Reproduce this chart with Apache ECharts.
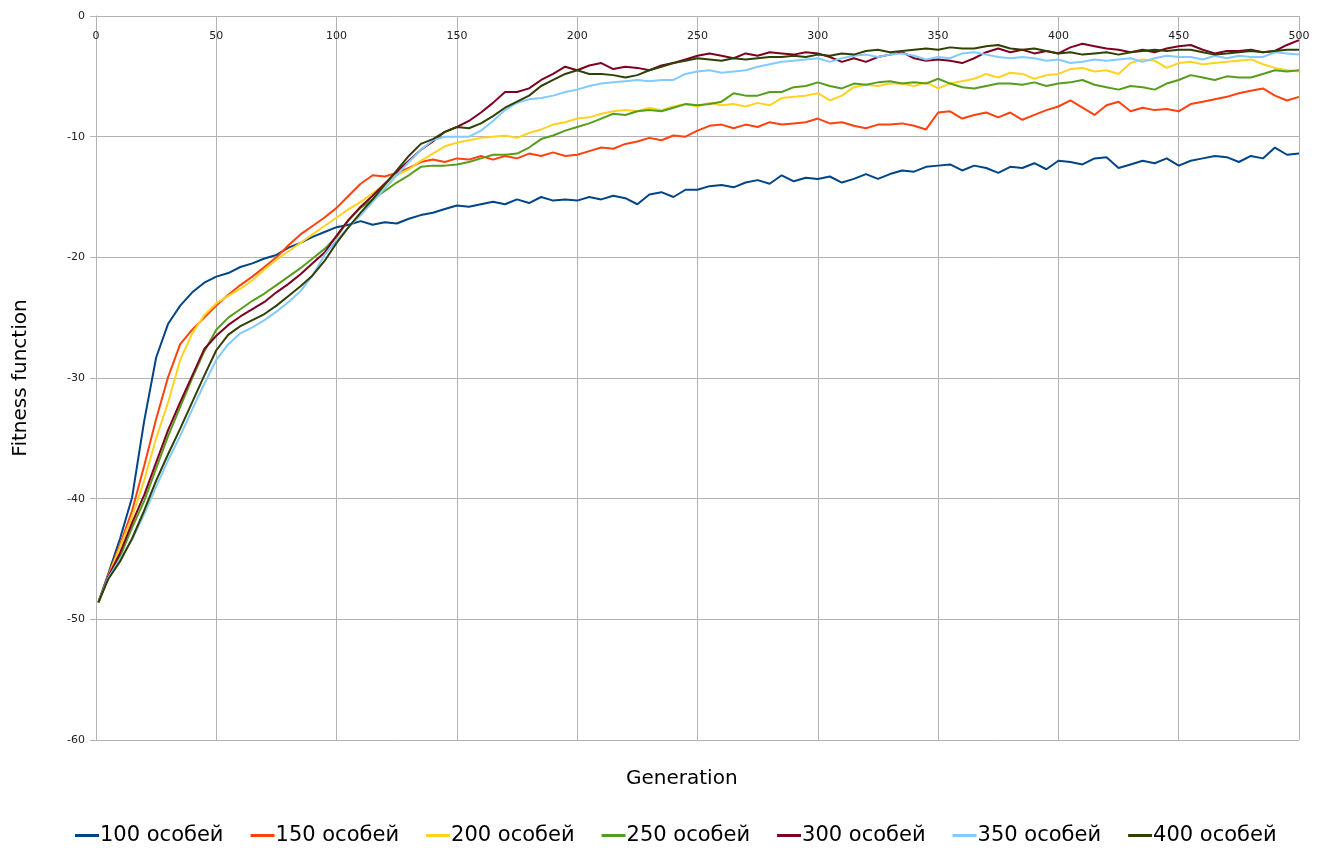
<!DOCTYPE html>
<html>
<head>
<meta charset="utf-8">
<script src="https://cdn.jsdelivr.net/npm/echarts@6/dist/echarts.min.js"></script>
<style>
  html, body { margin: 0; padding: 0; background: #fff; }
  #chart { width: 1321px; height: 849px; }
</style>
</head>
<body>
<div id="chart"></div>
<script>
// generations sampled: 1, then every 5th up to 500
var GEN = [1];
for (var g = 5; g <= 500; g += 5) GEN.push(g);

var SERIES_NAMES = ['100 особей', '150 особей', '200 особей', '250 особей', '300 особей', '350 особей', '400 особей'];
var COLORS = ['#004586', '#ff420e', '#ffd320', '#579d1c', '#7e0021', '#83caff', '#314004'];

var P100 = [-48.6, -46.3, -43.3, -39.9, -33.6, -28.3, -25.5, -24.0, -22.9, -22.1, -21.6, -21.3, -20.8, -20.5, -20.1, -19.8, -19.2, -18.8, -18.3, -17.9,
  -17.5, -17.3, -17.0, -17.3, -17.1, -17.2, -16.8, -16.5, -16.3, -16.0, -15.7, -15.8, -15.6, -15.4, -15.6, -15.2, -15.5, -15.0, -15.3, -15.2,
  -15.3, -15.0, -15.2, -14.9, -15.1, -15.6, -14.8, -14.6, -15.0, -14.4, -14.4, -14.1, -14.0, -14.2, -13.8, -13.6, -13.9, -13.2, -13.7, -13.4,
  -13.5, -13.3, -13.8, -13.5, -13.1, -13.5, -13.1, -12.8, -12.9, -12.5, -12.4, -12.3, -12.8, -12.4, -12.6, -13.0, -12.5, -12.6, -12.2, -12.7,
  -12.0, -12.1, -12.3, -11.8, -11.7, -12.6, -12.3, -12.0, -12.2, -11.8, -12.4, -12.0, -11.8, -11.6, -11.7, -12.1, -11.6, -11.8, -10.9, -11.5, -11.4];

var P150 = [-48.6, -46.4, -43.8, -41.0, -37.3, -33.4, -29.9, -27.2, -26.0, -25.0, -24.0, -23.1, -22.3, -21.6, -20.8, -20.0, -19.0, -18.1, -17.4, -16.7,
  -15.9, -14.9, -13.9, -13.2, -13.3, -13.0, -12.6, -12.1, -11.9, -12.1, -11.8, -11.9, -11.6, -11.9, -11.6, -11.8, -11.4, -11.6, -11.3, -11.6,
  -11.5, -11.2, -10.9, -11.0, -10.6, -10.4, -10.1, -10.3, -9.9, -10.0, -9.5, -9.1, -9.0, -9.3, -9.0, -9.2, -8.8, -9.0, -8.9, -8.8,
  -8.5, -8.9, -8.8, -9.1, -9.3, -9.0, -9.0, -8.9, -9.1, -9.4, -8.0, -7.9, -8.5, -8.2, -8.0, -8.4, -8.0, -8.6, -8.2, -7.8,
  -7.5, -7.0, -7.6, -8.2, -7.4, -7.1, -7.9, -7.6, -7.8, -7.7, -7.9, -7.3, -7.1, -6.9, -6.7, -6.4, -6.2, -6.0, -6.6, -7.0, -6.7];

var P200 = [-48.6, -46.5, -44.0, -41.5, -38.5, -35.0, -32.0, -28.5, -26.3, -24.8, -23.8, -23.2, -22.6, -21.9, -21.0, -20.2, -19.5, -18.8, -18.1, -17.4,
  -16.7, -16.0, -15.4, -14.7, -13.9, -13.2, -12.7, -12.0, -11.4, -10.8, -10.5, -10.3, -10.1, -10.0, -9.9, -10.1, -9.7, -9.4, -9.0, -8.8,
  -8.5, -8.4, -8.1, -7.9, -7.8, -7.9, -7.6, -7.8, -7.5, -7.3, -7.5, -7.2, -7.4, -7.3, -7.5, -7.2, -7.4, -6.8, -6.7, -6.6,
  -6.4, -7.0, -6.6, -5.9, -5.7, -5.8, -5.6, -5.6, -5.8, -5.5, -6.0, -5.6, -5.4, -5.2, -4.8, -5.1, -4.7, -4.8, -5.2, -4.9,
  -4.8, -4.4, -4.3, -4.6, -4.5, -4.8, -3.9, -3.6, -3.7, -4.3, -3.9, -3.8, -4.0, -3.9, -3.8, -3.7, -3.6, -4.0, -4.3, -4.5, -4.6];

var P250 = [-48.6, -46.6, -44.8, -42.4, -40.2, -37.5, -34.8, -32.4, -30.0, -27.8, -26.0, -25.0, -24.3, -23.6, -23.0, -22.3, -21.6, -20.9, -20.1, -19.3,
  -18.3, -16.9, -15.9, -15.2, -14.5, -13.8, -13.2, -12.5, -12.4, -12.4, -12.3, -12.1, -11.8, -11.5, -11.5, -11.4, -10.9, -10.2, -9.9, -9.5,
  -9.2, -8.9, -8.5, -8.1, -8.2, -7.9, -7.8, -7.9, -7.6, -7.3, -7.4, -7.3, -7.1, -6.4, -6.6, -6.6, -6.3, -6.3, -5.9, -5.8,
  -5.5, -5.8, -6.0, -5.6, -5.7, -5.5, -5.4, -5.6, -5.5, -5.6, -5.2, -5.6, -5.9, -6.0, -5.8, -5.6, -5.6, -5.7, -5.5, -5.8,
  -5.6, -5.5, -5.3, -5.7, -5.9, -6.1, -5.8, -5.9, -6.1, -5.6, -5.3, -4.9, -5.1, -5.3, -5.0, -5.1, -5.1, -4.8, -4.5, -4.6, -4.5];

var P300 = [-48.6, -46.5, -44.5, -42.0, -39.7, -37.0, -34.3, -32.0, -29.8, -27.6, -26.5, -25.6, -24.9, -24.3, -23.7, -22.9, -22.2, -21.4, -20.5, -19.6,
  -18.2, -16.9, -15.8, -14.9, -13.9, -12.9, -12.0, -11.1, -10.4, -9.6, -9.2, -8.7, -8.0, -7.2, -6.3, -6.3, -6.0, -5.3, -4.8, -4.2,
  -4.5, -4.1, -3.9, -4.4, -4.2, -4.3, -4.5, -4.1, -3.9, -3.6, -3.3, -3.1, -3.3, -3.5, -3.1, -3.3, -3.0, -3.1, -3.2, -3.0,
  -3.1, -3.4, -3.8, -3.5, -3.8, -3.4, -3.2, -3.0, -3.5, -3.7, -3.6, -3.7, -3.9, -3.5, -3.0, -2.7, -3.0, -2.8, -3.1, -2.9,
  -3.1, -2.6, -2.3, -2.5, -2.7, -2.8, -3.0, -2.8, -3.0, -2.7, -2.5, -2.4, -2.8, -3.1, -2.9, -2.9, -2.8, -3.0, -2.9, -2.4, -2.0];

var P350 = [-48.6, -46.6, -45.0, -43.4, -41.3, -39.0, -36.8, -34.8, -32.6, -30.5, -28.5, -27.2, -26.3, -25.8, -25.2, -24.5, -23.7, -22.8, -21.5, -19.8,
  -18.6, -17.5, -16.5, -15.4, -14.3, -13.2, -12.1, -11.1, -10.3, -10.0, -10.0, -10.0, -9.5, -8.7, -7.8, -7.2, -6.9, -6.8, -6.6, -6.3,
  -6.1, -5.8, -5.6, -5.5, -5.4, -5.3, -5.4, -5.3, -5.3, -4.8, -4.6, -4.5, -4.7, -4.6, -4.5, -4.2, -4.0, -3.8, -3.7, -3.6,
  -3.5, -3.8, -3.5, -3.3, -3.2, -3.4, -3.2, -3.1, -3.3, -3.6, -3.4, -3.5, -3.1, -3.0, -3.2, -3.4, -3.5, -3.4, -3.5, -3.7,
  -3.6, -3.9, -3.8, -3.6, -3.7, -3.6, -3.5, -3.8, -3.5, -3.3, -3.4, -3.4, -3.6, -3.3, -3.5, -3.3, -3.4, -3.4, -3.0, -3.1, -3.2];

var P400 = [-48.6, -46.7, -45.2, -43.3, -41.0, -38.5, -36.3, -34.2, -32.0, -29.8, -27.7, -26.4, -25.7, -25.2, -24.7, -24.0, -23.2, -22.4, -21.5, -20.3,
  -18.8, -17.5, -16.3, -15.2, -14.0, -12.8, -11.6, -10.6, -10.2, -9.6, -9.2, -9.3, -8.9, -8.3, -7.6, -7.1, -6.6, -5.8, -5.3, -4.8,
  -4.5, -4.8, -4.8, -4.9, -5.1, -4.9, -4.5, -4.2, -3.9, -3.7, -3.5, -3.6, -3.7, -3.5, -3.6, -3.5, -3.4, -3.4, -3.3, -3.4,
  -3.2, -3.3, -3.1, -3.2, -2.9, -2.8, -3.0, -2.9, -2.8, -2.7, -2.8, -2.6, -2.7, -2.7, -2.5, -2.4, -2.7, -2.8, -2.7, -2.9,
  -3.1, -3.0, -3.2, -3.1, -3.0, -3.2, -3.0, -2.9, -2.8, -2.9, -2.8, -2.8, -3.0, -3.2, -3.1, -3.0, -2.9, -3.0, -2.9, -2.8, -2.8];

var VALUES = [P100, P150, P200, P250, P300, P350, P400];
var FONT = 'DejaVu Sans';
var GRID_COLOR = '#b3b3b3';

var chart = echarts.init(document.getElementById('chart'), null, { renderer: 'canvas' });

chart.setOption({
  animation: false,
  backgroundColor: '#fff',
  textStyle: { fontFamily: FONT },
  grid: { left: 96, right: 22, top: 16, bottom: 109, containLabel: false, outerBoundsMode: 'none' },
  xAxis: {
    type: 'value',
    position: 'top',
    min: 0, max: 500, interval: 50,
    axisLine: { show: true, lineStyle: { color: GRID_COLOR, width: 1 } },
    axisTick: { show: false },
    axisLabel: { inside: true, margin: 15, fontSize: 11, color: '#222', fontFamily: FONT },
    splitLine: { show: true, lineStyle: { color: GRID_COLOR, width: 1 } },
  },
  yAxis: {
    type: 'value',
    min: -60, max: 0, interval: 10,
    axisLine: { show: true, onZero: false, lineStyle: { color: GRID_COLOR, width: 1 } },
    axisTick: { show: true, length: 6, lineStyle: { color: GRID_COLOR } },
    axisLabel: { margin: 11, fontSize: 11, color: '#222', fontFamily: FONT },
    splitLine: { show: true, lineStyle: { color: GRID_COLOR, width: 1 } },
    name: 'Fitness function',
    nameLocation: 'middle',
    nameGap: 65,
    nameTextStyle: { fontSize: 20, color: '#000', fontFamily: FONT },
  },
  legend: {
    top: 820,
    left: 70,
    itemGap: 27,
    itemWidth: 24,
    itemHeight: 3,
    icon: 'rect',
    textStyle: { fontSize: 21, color: '#000', fontFamily: FONT, padding: [0, 0, 0, -4] },
    data: SERIES_NAMES,
  },
  graphic: [{
    type: 'text',
    left: 686 - 60, top: 769,
    style: { text: 'Generation', fontSize: 20, fill: '#000', fontFamily: FONT, width: 120, align: 'center' },
  }],
  series: SERIES_NAMES.map(function (name, idx) {
    return {
      name: name,
      type: 'line',
      symbol: 'none',
      showSymbol: false,
      color: COLORS[idx],
      lineStyle: { width: 2, color: COLORS[idx] },
      data: GEN.map(function (gen, i) { return [gen, VALUES[idx][i]]; }),
      z: 2 + idx,
    };
  }),
});
</script>
</body>
</html>
